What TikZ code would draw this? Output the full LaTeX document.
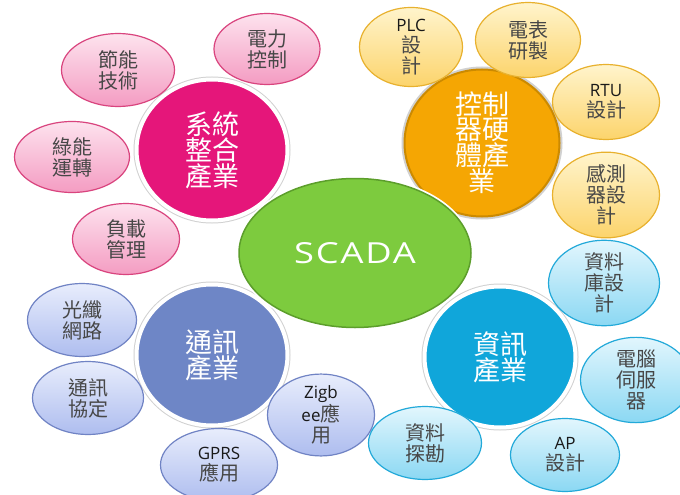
\documentclass[tikz,border=0pt]{standalone}
\usepackage{fontspec}
\usepackage{graphicx}
\setmainfont{Noto Sans CJK TC}
\newfontfamily\latinfont{Open Sans}
\usetikzlibrary{shapes.geometric}

% palette
\definecolor{leafgray}{HTML}{474747}
\definecolor{pinktop}{HTML}{FDE3EE}
\definecolor{pinkbot}{HTML}{F49CC2}
\definecolor{pinkline}{HTML}{D9447E}
\definecolor{goldtop}{HTML}{FFF4CC}
\definecolor{goldbot}{HTML}{FCD46C}
\definecolor{goldline}{HTML}{E8B12E}
\definecolor{lilactop}{HTML}{E8EDFC}
\definecolor{lilacbot}{HTML}{AEBDEF}
\definecolor{lilacline}{HTML}{7083C4}
\definecolor{skytop}{HTML}{E2F6FD}
\definecolor{skybot}{HTML}{8BD8F3}
\definecolor{skyline}{HTML}{22A9D9}
\definecolor{sysfill}{HTML}{E5167A}
\definecolor{ctrlfill}{HTML}{F5A603}
\definecolor{ctrlline}{HTML}{CC8A00}
\definecolor{commfill}{HTML}{6E86C6}
\definecolor{infofill}{HTML}{10A6DA}
\definecolor{scadafill}{HTML}{7DCB3E}
\definecolor{scadaline}{HTML}{5C9E2B}

\newcommand{\lat}[1]{{\latinfont\fontsize{17}{21}\selectfont\color{black!90}#1}}

\tikzset{
  leaf/.style={ellipse, inner sep=0pt, line width=1.2pt, align=center,
    text=leafgray, font=\fontsize{20}{21}\selectfont},
  pinkleaf/.style={leaf, draw=pinkline, top color=pinktop, bottom color=pinkbot},
  goldleaf/.style={leaf, draw=goldline, top color=goldtop, bottom color=goldbot},
  lilacleaf/.style={leaf, draw=lilacline, top color=lilactop, bottom color=lilacbot},
  skyleaf/.style={leaf, draw=skyline, top color=skytop, bottom color=skybot},
  hub/.style={ellipse, inner sep=0pt, minimum width=151pt, minimum height=141pt,
    draw=white, line width=4pt, preaction={draw=black!18, line width=6pt},
    text=white, align=center, font=\fontsize{27}{25}\selectfont},
}

\begin{document}
\begin{tikzpicture}[x=1pt,y=-1pt]
\useasboundingbox[fill=white] (0,0) rectangle (680,495);

% the four sectors
\node[hub, fill=sysfill] (sys) at (212,150) {系統\\整合\\產業};
\node[hub, fill=ctrlfill, draw=ctrlline, line width=2pt,
  preaction={draw=none}, minimum width=155pt, minimum height=147pt]
  (ctrl) at (482,143) {控制\\器硬\\體產\\業};
\node[hub, fill=commfill] (comm) at (212,355) {通訊\\產業};
\node[hub, fill=infofill] (info) at (500,357) {資訊\\產業};

% system integration
\node[pinkleaf, minimum width=113pt, minimum height=73pt] (save) at (118,70) {節能\\技術};
\node[pinkleaf, minimum width=106pt, minimum height=71pt] (power) at (267,49) {電力\\控制};
\node[pinkleaf, minimum width=115pt, minimum height=71pt] (green) at (72,157) {綠能\\運轉};
\node[pinkleaf, minimum width=107pt, minimum height=71pt] (load) at (126,239) {負載\\管理};

% controller hardware
\node[goldleaf, minimum width=103pt, minimum height=77pt] (plc) at (411,47) {\lat{PLC}\\設\\計};
\node[goldleaf, minimum width=105pt, minimum height=75pt] (meter) at (528,40) {電表\\研製};
\node[goldleaf, minimum width=107pt, minimum height=75pt] (rtu) at (606,102) {\lat{RTU}\\設計};
\node[goldleaf, minimum width=107pt, minimum height=73pt] (sensor) at (606,195) {感測\\器設\\計};

% communication
\node[lilacleaf, minimum width=109pt, minimum height=73pt] (fiber) at (82,320) {光纖\\網路};
\node[lilacleaf, minimum width=111pt, minimum height=73pt] (proto) at (88,398) {通訊\\協定};
\node[lilacleaf, minimum width=117pt, minimum height=73pt] (gprs) at (219,465) {\lat{GPRS}\\應用};
\node[lilacleaf, minimum width=107pt, minimum height=73pt] (zigbee) at (321,415) {\lat{Zigb}\\\lat{ee}應\\用};

% information
\node[skyleaf, minimum width=111pt, minimum height=75pt] (db) at (604,283) {資料\\庫設\\計};
\node[skyleaf, minimum width=111pt, minimum height=73pt] (server) at (636,380) {電腦\\伺服\\器};
\node[skyleaf, minimum width=109pt, minimum height=73pt] (ap) at (565,455) {\lat{AP}\\設計};
\node[skyleaf, minimum width=113pt, minimum height=73pt] (mining) at (425,443) {資料\\探勘};

% centre
\node[ellipse, inner sep=0pt, minimum width=232pt, minimum height=149pt,
  fill=scadafill, draw=scadaline, line width=1.5pt,
  preaction={draw=white, line width=5pt}, text=white]
  (scada) at (355,253)
  {\scalebox{1.25}[1]{\latinfont\fontsize{29}{29}\selectfont\addfontfeature{LetterSpace=5}SCADA}};
\end{tikzpicture}
\end{document}
